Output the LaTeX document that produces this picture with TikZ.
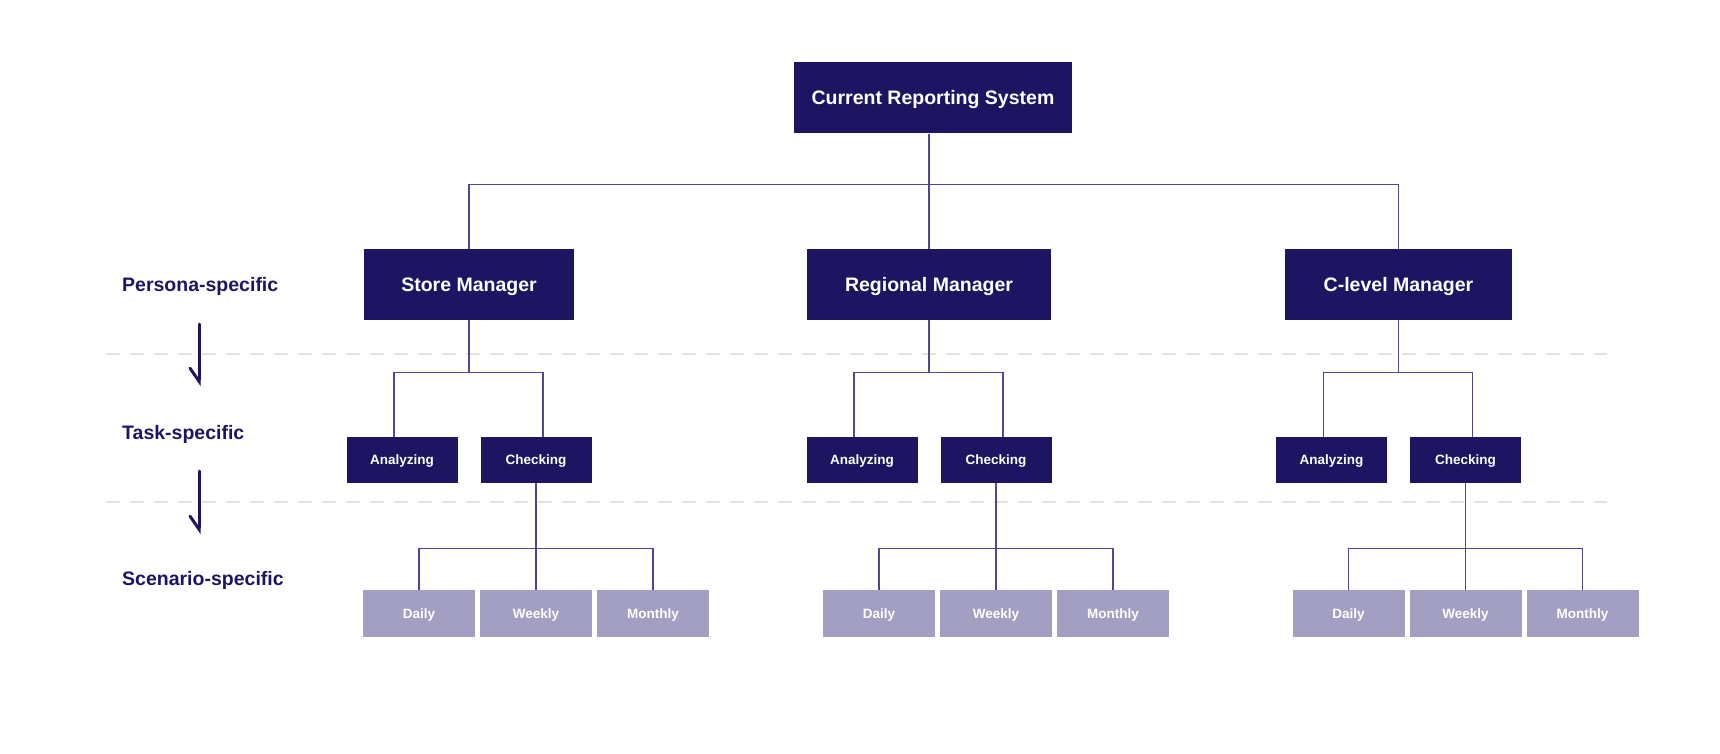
\documentclass[tikz,border=0pt]{standalone}
\usepackage{fontspec}
\setmainfont{Liberation Sans}
\usetikzlibrary{arrows.meta}
\definecolor{navy}{HTML}{1D1561}
\definecolor{lilac}{HTML}{A29FC3}
\definecolor{wire}{HTML}{4E4793}
\definecolor{guide}{HTML}{E2E2E6}
\tikzset{>=latex}
\tikzset{
    big/.style={fill=navy,text=white,inner sep=0pt,minimum height=71pt,text height=14pt,text depth=0pt,font=\bfseries\fontsize{19.5}{22}\selectfont},
    task/.style={fill=navy,text=white,inner sep=0pt,minimum width=111pt,minimum height=46pt,text height=9.7pt,text depth=0pt,font=\bfseries\fontsize{13.5}{16}\selectfont},
    when/.style={fill=lilac,text=white,inner sep=0pt,minimum width=112pt,minimum height=47pt,text height=9.7pt,text depth=0pt,font=\bfseries\fontsize{13.5}{16}\selectfont},
    levelname/.style={anchor=west,inner sep=0pt,text=navy,text height=14pt,text depth=0pt,font=\bfseries\fontsize{19.5}{22}\selectfont},
    wire/.style={draw=wire,line width=1.4pt},
    guide/.style={draw=guide,line width=2pt,dash pattern=on 14pt off 10pt},
    down/.style={draw=navy,line width=3pt,line cap=round,-{Straight Barb[harpoon,swap,length=13pt,width=18pt,line cap=round]}}
}

\begin{document}
\begin{tikzpicture}[x=1pt,y=-1pt]
            \draw[draw=none,use as bounding box] (0,0) rectangle (1720,754);
            \draw[guide] (106,354) -- (1607,354);
            \draw[guide] (106,502) -- (1607,502);
            \node[levelname] (persona) at (122,284.5) {Persona-specific};
            \node[levelname] (task) at (122,432.5) {Task-specific};
            \node[levelname] (scenario) at (122,578.5) {Scenario-specific};
            \coordinate (s1) at (199,324);
            \coordinate (e1) at (199,386);
            \coordinate (s2) at (199,471);
            \coordinate (e2) at (199,534);
            \draw[down] (s1) -- (e1);
            \draw[down] (s2) -- (e2);
            \node[big,minimum width=278pt] (0) at (933,98) {Current Reporting System};
            \node[big,minimum width=210pt] (1) at (469,284.5) {Store Manager};
            \node[big,minimum width=244pt] (2) at (929,284.5) {Regional Manager};
            \node[big,minimum width=227pt] (3) at (1398.5,284.5) {C-level Manager};
            \foreach \p/\x in {1/469,2/929,3/1398.5}{
                \draw[wire] (0.south -| 2.north) -- ++(0,51) -| (\p.north);
                \node[task] (a\p) at (\x-67,460) {Analyzing};
                \node[task] (c\p) at (\x+67,460) {Checking};
                \draw[wire] (\p.south) -- ++(0,52) -| ([xshift=-8pt]a\p.north);
                \draw[wire] (\p.south) -- ++(0,52) -| ([xshift=7pt]c\p.north);
                \node[when] (d\p) at (\x-50,613.5) {Daily};
                \node[when] (w\p) at (\x+67,613.5) {Weekly};
                \node[when] (m\p) at (\x+184,613.5) {Monthly};
                \foreach \s in {d,w,m}
                    \draw[wire] (c\p.south) -- ++(0,65) -| (\s\p.north);
            }
        \end{tikzpicture}
\end{document}
